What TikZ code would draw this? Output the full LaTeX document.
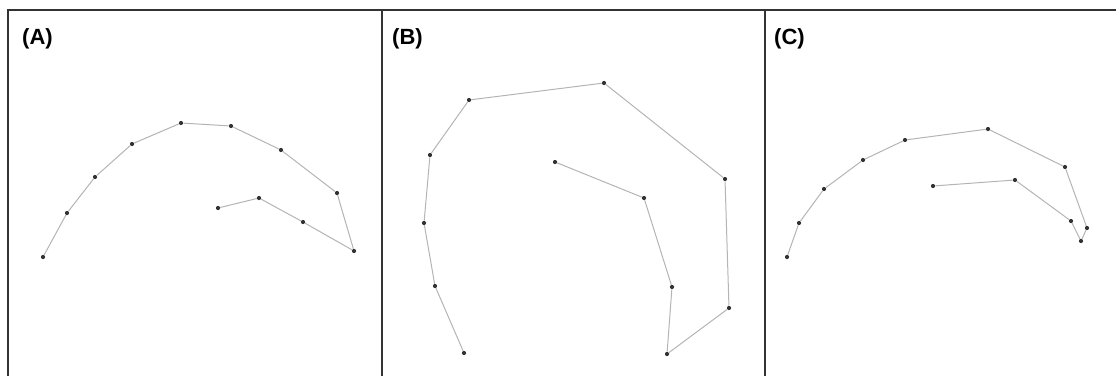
\documentclass[tikz,border=0pt]{standalone}
\usepackage{fontspec}
\setmainfont{Liberation Sans}
\usetikzlibrary{calc}
\definecolor{dotgray}{HTML}{333333}
\definecolor{linegray}{HTML}{B4B4B4}
\tikzset{dot/.style={circle,fill=dotgray,inner sep=0pt,minimum size=4.2pt},
 seg/.style={draw=linegray,line width=1pt},
 frame/.style={draw=dotgray,line width=1.3pt},
 lbl/.style={anchor=west,inner sep=0pt,font=\bfseries\fontsize{22}{22}\selectfont}}

\begin{document}
\begin{tikzpicture}[x=1pt,y=-1pt]
 \useasboundingbox (0,0) rectangle (1116,376);
 \draw[frame] (8,376)--(8,10)--(1116,10)
 (382,10)--(382,376)
 (765,10)--(765,376);
 \node[lbl] (la) at (22,38.5) {(A)};
 \node[lbl] (lb) at (392,38.5) {(B)};
 \node[lbl] (lc) at (774,38.5) {(C)};
 % panel A
 \foreach \i/\x/\y in {1/43/257,2/67/213,3/95/177,4/132/144,5/181/123,6/231/126,
 7/281/150,8/337/193,9/354/251,10/303/222,11/259/198,12/218/208}
 \node[dot] (a\i) at (\x,\y) {};
 \foreach \i [count=\j from 2] in {1,...,11}
 \draw[seg] (a\i)--(a\j);
 % panel B
 \foreach \i/\x/\y in {1/464/353,2/435/286,3/424/223,4/430/155,5/469/100,6/604/83,
 7/725/179,8/729/308,9/667/354,10/672/287,11/644/198,12/555/162}
 \node[dot] (b\i) at (\x,\y) {};
 \foreach \i [count=\j from 2] in {1,...,11}
 \draw[seg] (b\i)--(b\j);
 % panel C
 \foreach \i/\x/\y in {1/787/257,2/799/223,3/824/189,4/863/160,5/905/140,6/988/129,
 7/1065/167,8/1087/228,9/1081/241,10/1071/221,11/1015/180,12/933/186}
 \node[dot] (c\i) at (\x,\y) {};
 \foreach \i [count=\j from 2] in {1,...,11}
 \draw[seg] (c\i)--(c\j);
\end{tikzpicture}
\end{document}
